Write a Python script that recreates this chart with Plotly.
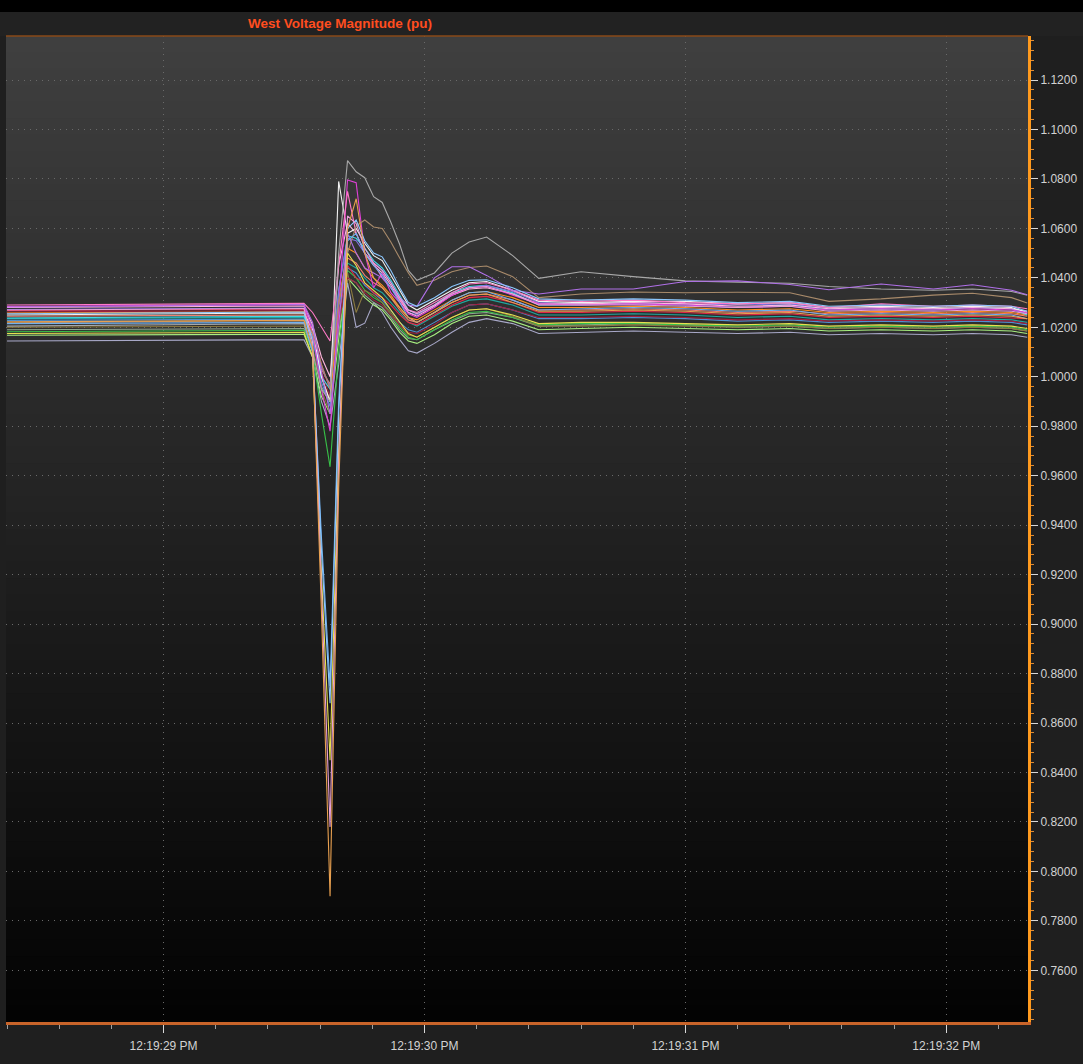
import pandas as pd
import plotly.graph_objects as go

# Sample times, seconds after 12:19:28
t_sec = [0.40, 0.80, 1.20, 1.538, 1.571, 1.605, 1.638, 1.671, 1.705, 1.738,
         1.771, 1.805, 1.838, 1.871, 1.905, 1.938, 1.971, 2.038, 2.105, 2.171,
         2.238, 2.338, 2.438, 2.60, 2.80, 3.00, 3.20, 3.40, 3.55, 3.75,
         3.95, 4.10, 4.25, 4.31]

# Per-bus voltage magnitude (pu)
v_gray = [1.0205, 1.0208, 1.0212, 1.0215,
          1.0100, 0.9950, 0.9900, 1.0500,
          1.0874, 1.0829, 1.0805, 1.0728, 1.0705, 1.0625, 1.0535,
          1.0430, 1.0390, 1.0420, 1.0500, 1.0545, 1.0565, 1.0490, 1.0398,
          1.0425, 1.0405, 1.0388, 1.0382, 1.0378, 1.0365, 1.0355, 1.0350, 1.0355, 1.0345, 1.0330]
v_tan = [1.0218, 1.0221, 1.0224, 1.0228,
         1.0180, 1.0050, 0.9950, 1.0300,
         1.0500, 1.0610, 1.0634, 1.0606, 1.0600, 1.0545, 1.0480,
         1.0420, 1.0370, 1.0390, 1.0425, 1.0442, 1.0448, 1.0405, 1.0320,
         1.0335, 1.0343, 1.0340, 1.0342, 1.0340, 1.0305, 1.0315, 1.0330, 1.0338, 1.0320, 1.0298]
v_purple = [1.0282, 1.0285, 1.0289, 1.0292,
            1.0220, 1.0020, 0.9850, 1.0200,
            1.0580, 1.0500, 1.0440, 1.0420, 1.0400, 1.0360, 1.0320,
            1.0290, 1.0285, 1.0400, 1.0445, 1.0445, 1.0410, 1.0350, 1.0335,
            1.0355, 1.0355, 1.0385, 1.0388, 1.0373, 1.0352, 1.0375, 1.0355, 1.0372, 1.0350, 1.0332]
v_pink = [1.0290, 1.0292, 1.0295, 1.0297,
          1.0260, 1.0200, 1.0145, 1.0450,
          1.0750, 1.0580, 1.0500, 1.0460, 1.0400, 1.0360, 1.0310,
          1.0270, 1.0260, 1.0300, 1.0340, 1.0375, 1.0380, 1.0350, 1.0310,
          1.0305, 1.0310, 1.0300, 1.0295, 1.0300, 1.0280, 1.0295, 1.0285, 1.0290, 1.0285, 1.0275]
v_magenta = [1.0284, 1.0287, 1.0289, 1.0292,
             1.0180, 0.9950, 0.9780, 1.0300,
             1.0796, 1.0785, 1.0500, 1.0360, 1.0420, 1.0340, 1.0300,
             1.0255, 1.0240, 1.0280, 1.0330, 1.0360, 1.0365, 1.0330, 1.0295,
             1.0290, 1.0295, 1.0290, 1.0280, 1.0285, 1.0270, 1.0275, 1.0270, 1.0275, 1.0270, 1.0260]
v_lightblue = [1.0255, 1.0257, 1.0260, 1.0262,
               1.0120, 0.9300, 0.8680, 0.9850,
               1.0600, 1.0634, 1.0550, 1.0500, 1.0485, 1.0430, 1.0360,
               1.0300, 1.0285, 1.0320, 1.0365, 1.0390, 1.0392, 1.0360, 1.0315,
               1.0310, 1.0315, 1.0310, 1.0300, 1.0305, 1.0285, 1.0290, 1.0285, 1.0290, 1.0285, 1.0265]
v_white = [1.0250, 1.0252, 1.0255, 1.0258,
           1.0190, 1.0000, 0.9900, 1.0790,
           1.0580, 1.0600, 1.0540, 1.0490, 1.0470, 1.0410, 1.0350,
           1.0290, 1.0270, 1.0310, 1.0350, 1.0380, 1.0385, 1.0350, 1.0305,
           1.0300, 1.0305, 1.0305, 1.0295, 1.0300, 1.0280, 1.0285, 1.0280, 1.0285, 1.0280, 1.0260]
v_cyan = [1.0238, 1.0240, 1.0243, 1.0245,
          1.0160, 1.0000, 0.9950, 1.0350,
          1.0570, 1.0560, 1.0520, 1.0470, 1.0440, 1.0390, 1.0330,
          1.0270, 1.0255, 1.0290, 1.0340, 1.0365, 1.0370, 1.0340, 1.0290,
          1.0290, 1.0295, 1.0290, 1.0280, 1.0290, 1.0270, 1.0275, 1.0270, 1.0280, 1.0275, 1.0250]
v_red = [1.0268, 1.0270, 1.0272, 1.0274,
         1.0200, 1.0050, 0.9950, 1.0250,
         1.0450, 1.0400, 1.0380, 1.0340, 1.0320, 1.0290, 1.0250,
         1.0220, 1.0210, 1.0250, 1.0290, 1.0320, 1.0325, 1.0300, 1.0260,
         1.0260, 1.0265, 1.0260, 1.0250, 1.0255, 1.0240, 1.0245, 1.0240, 1.0245, 1.0240, 1.0235]
v_orangetan = [1.0222, 1.0224, 1.0226, 1.0228,
               1.0120, 0.9050, 0.7900, 0.9550,
               1.0600, 1.0720, 1.0500, 1.0400, 1.0360, 1.0320, 1.0280,
               1.0240, 1.0220, 1.0260, 1.0300, 1.0330, 1.0335, 1.0300, 1.0265,
               1.0265, 1.0270, 1.0265, 1.0255, 1.0260, 1.0245, 1.0250, 1.0245, 1.0250, 1.0245, 1.0235]
v_yellow = [1.0175, 1.0177, 1.0179, 1.0180,
            1.0080, 0.9200, 0.8450, 0.9700,
            1.0500, 1.0450, 1.0380, 1.0350, 1.0320, 1.0270, 1.0220,
            1.0175, 1.0160, 1.0200, 1.0240, 1.0270, 1.0275, 1.0250, 1.0215,
            1.0220, 1.0220, 1.0215, 1.0210, 1.0215, 1.0205, 1.0210, 1.0205, 1.0210, 1.0205, 1.0195]
v_rose = [1.0270, 1.0272, 1.0274, 1.0276,
          1.0140, 0.9150, 0.8180, 0.9650,
          1.0650, 1.0620, 1.0520, 1.0460, 1.0430, 1.0380, 1.0320,
          1.0270, 1.0255, 1.0290, 1.0335, 1.0360, 1.0365, 1.0335, 1.0290,
          1.0290, 1.0290, 1.0285, 1.0280, 1.0285, 1.0265, 1.0270, 1.0265, 1.0270, 1.0265, 1.0255]
v_green = [1.0182, 1.0184, 1.0186, 1.0188,
           1.0100, 0.9850, 0.9636, 1.0100,
           1.0430, 1.0400, 1.0350, 1.0320, 1.0300, 1.0250, 1.0200,
           1.0160, 1.0150, 1.0190, 1.0230, 1.0260, 1.0265, 1.0240, 1.0210,
           1.0215, 1.0215, 1.0210, 1.0205, 1.0210, 1.0200, 1.0205, 1.0200, 1.0205, 1.0200, 1.0190]
v_teal = [1.0235, 1.0237, 1.0238, 1.0240,
          1.0150, 1.0000, 0.9900, 1.0280,
          1.0460, 1.0440, 1.0400, 1.0360, 1.0340, 1.0300, 1.0260,
          1.0220, 1.0205, 1.0245, 1.0285, 1.0310, 1.0315, 1.0290, 1.0250,
          1.0250, 1.0255, 1.0250, 1.0240, 1.0245, 1.0230, 1.0235, 1.0230, 1.0235, 1.0230, 1.0220]
v_olive = [1.0200, 1.0202, 1.0203, 1.0205,
           1.0120, 0.9950, 0.9850, 1.0200,
           1.0420, 1.0260, 1.0350, 1.0330, 1.0300, 1.0260, 1.0210,
           1.0170, 1.0160, 1.0200, 1.0240, 1.0270, 1.0275, 1.0245, 1.0205,
           1.0205, 1.0210, 1.0205, 1.0200, 1.0205, 1.0195, 1.0200, 1.0195, 1.0200, 1.0195, 1.0185]
v_lavender = [1.0145, 1.0147, 1.0148, 1.0150,
              1.0080, 0.9900, 0.9800, 1.0050,
              1.0380, 1.0200, 1.0217, 1.0300, 1.0260, 1.0200, 1.0150,
              1.0105, 1.0096, 1.0135, 1.0180, 1.0220, 1.0235, 1.0215, 1.0175,
              1.0180, 1.0185, 1.0180, 1.0175, 1.0180, 1.0170, 1.0175, 1.0170, 1.0175, 1.0170, 1.0160]
v_skyblue = [1.0215, 1.0217, 1.0218, 1.0220,
             1.0100, 0.9350, 0.8750, 0.9900,
             1.0550, 1.0580, 1.0500, 1.0450, 1.0410, 1.0360, 1.0300,
             1.0240, 1.0220, 1.0260, 1.0310, 1.0340, 1.0345, 1.0310, 1.0270,
             1.0275, 1.0280, 1.0275, 1.0265, 1.0270, 1.0250, 1.0255, 1.0250, 1.0255, 1.0250, 1.0235]
v_darkred = [1.0262, 1.0264, 1.0266, 1.0268,
             1.0180, 1.0020, 0.9920, 1.0220,
             1.0400, 1.0380, 1.0340, 1.0310, 1.0290, 1.0250, 1.0210,
             1.0180, 1.0175, 1.0210, 1.0260, 1.0290, 1.0295, 1.0270, 1.0240,
             1.0240, 1.0245, 1.0240, 1.0230, 1.0235, 1.0225, 1.0230, 1.0225, 1.0230, 1.0225, 1.0215]
v_lightgreen = [1.0168, 1.0169, 1.0171, 1.0172,
                1.0080, 0.9920, 0.9850, 1.0150,
                1.0400, 1.0360, 1.0320, 1.0290, 1.0270, 1.0230, 1.0180,
                1.0145, 1.0135, 1.0170, 1.0215, 1.0245, 1.0250, 1.0225, 1.0190,
                1.0195, 1.0200, 1.0195, 1.0190, 1.0195, 1.0185, 1.0190, 1.0185, 1.0190, 1.0185, 1.0175]
v_salmon = [1.0245, 1.0247, 1.0248, 1.0250,
            1.0170, 1.0030, 0.9970, 1.0300,
            1.0480, 1.0460, 1.0410, 1.0380, 1.0360, 1.0320, 1.0270,
            1.0230, 1.0220, 1.0260, 1.0300, 1.0330, 1.0335, 1.0310, 1.0270,
            1.0270, 1.0275, 1.0270, 1.0260, 1.0265, 1.0255, 1.0260, 1.0255, 1.0260, 1.0255, 1.0245]
v_violet = [1.0272, 1.0274, 1.0276, 1.0278,
            1.0200, 1.0040, 0.9960, 1.0350,
            1.0560, 1.0550, 1.0500, 1.0460, 1.0430, 1.0380, 1.0320,
            1.0260, 1.0250, 1.0290, 1.0330, 1.0360, 1.0370, 1.0345, 1.0300,
            1.0295, 1.0300, 1.0295, 1.0290, 1.0295, 1.0275, 1.0280, 1.0275, 1.0280, 1.0275, 1.0255]
v_sage = [1.0190, 1.0192, 1.0193, 1.0195,
          1.0110, 0.9960, 0.9900, 1.0180,
          1.0400, 1.0380, 1.0330, 1.0300, 1.0280, 1.0240, 1.0190,
          1.0155, 1.0150, 1.0190, 1.0225, 1.0255, 1.0260, 1.0240, 1.0205,
          1.0210, 1.0215, 1.0210, 1.0200, 1.0205, 1.0195, 1.0200, 1.0195, 1.0200, 1.0195, 1.0185]
v_lightpink = [1.0280, 1.0282, 1.0284, 1.0286,
               1.0210, 1.0080, 1.0000, 1.0450,
               1.0620, 1.0580, 1.0500, 1.0450, 1.0420, 1.0370, 1.0310,
               1.0260, 1.0245, 1.0285, 1.0330, 1.0355, 1.0360, 1.0335, 1.0295,
               1.0295, 1.0300, 1.0295, 1.0285, 1.0290, 1.0275, 1.0280, 1.0275, 1.0280, 1.0275, 1.0265]
v_orange = [1.0258, 1.0260, 1.0261, 1.0263,
            1.0180, 1.0000, 0.9900, 1.0300,
            1.0520, 1.0500, 1.0440, 1.0400, 1.0370, 1.0330, 1.0280,
            1.0240, 1.0230, 1.0270, 1.0310, 1.0340, 1.0345, 1.0320, 1.0280,
            1.0280, 1.0285, 1.0280, 1.0270, 1.0275, 1.0260, 1.0265, 1.0260, 1.0265, 1.0260, 1.0250]
v_steel = [1.0228, 1.0230, 1.0231, 1.0233,
           1.0150, 0.9980, 0.9880, 1.0250,
           1.0440, 1.0420, 1.0370, 1.0340, 1.0310, 1.0270, 1.0220,
           1.0190, 1.0180, 1.0220, 1.0260, 1.0290, 1.0295, 1.0270, 1.0235,
           1.0235, 1.0240, 1.0235, 1.0225, 1.0230, 1.0220, 1.0225, 1.0220, 1.0225, 1.0220, 1.0210]

# Y tick positions (pu)
y_ticks = [0.76, 0.78, 0.80, 0.82, 0.84, 0.86, 0.88, 0.90, 0.92, 0.94,
           0.96, 0.98, 1.00, 1.02, 1.04, 1.06, 1.08, 1.10, 1.12]
tick_label_fmt = "%I:%M:%S %p"
title_text = "West Voltage Magnitude (pu)"

series = [
    (v_lavender, "#a8a8c8"), (v_sage, "#90a890"), (v_lightgreen, "#a8f080"),
    (v_green, "#38c048"), (v_olive, "#8a7a40"), (v_steel, "#5090d0"),
    (v_teal, "#20a8a0"), (v_darkred, "#a02040"), (v_salmon, "#f08070"),
    (v_red, "#e02848"), (v_orange, "#ff9020"), (v_cyan, "#40d8e8"),
    (v_violet, "#8070e0"), (v_lightpink, "#ffb8e0"), (v_white, "#f2f2f2"),
    (v_magenta, "#e040d8"), (v_pink, "#ff7ac8"), (v_tan, "#a88a6a"),
    (v_gray, "#a8a8a8"), (v_purple, "#b070e8"), (v_skyblue, "#70b0f0"),
    (v_yellow, "#e8e050"), (v_lightblue, "#8cc8ff"), (v_rose, "#e8a0d8"),
    (v_orangetan, "#e8a050"),
]
for vals, _ in series:
    if len(vals) != len(t_sec):
        raise ValueError("series length mismatch")

base = pd.Timestamp("2024-05-01 12:19:28")
times = base + pd.to_timedelta(t_sec, unit="s")

fig = go.Figure()
for vals, col in series:
    fig.add_trace(go.Scatter(x=times, y=vals, mode="lines",
                             line=dict(color=col, width=1.1),
                             hoverinfo="skip", showlegend=False))

# plot-area vertical gradient (grey at top fading to black)
shapes = []
n_bands = 60
top_level, bottom_level = 64, 2
for i in range(n_bands):
    f = (i + 0.5) / n_bands
    g = int(round(bottom_level + (top_level - bottom_level) * f))
    shapes.append(dict(type="rect", xref="paper", yref="paper", layer="below",
                       x0=0, x1=1, y0=i / n_bands, y1=(i + 1) / n_bands + 0.001,
                       fillcolor=f"rgb({g},{g},{g})", line=dict(width=0)))
# header strip and black top band
shapes.append(dict(type="rect", xref="paper", yref="paper", layer="below",
                   x0=-0.01, x1=1.06, y0=1.0, y1=1.0244,
                   fillcolor="#222222", line=dict(width=0)))
shapes.append(dict(type="rect", xref="paper", yref="paper", layer="below",
                   x0=-0.01, x1=1.06, y0=1.0244, y1=1.05,
                   fillcolor="#000000", line=dict(width=0)))
# thin border under the header
shapes.append(dict(type="line", xref="paper", yref="paper", layer="above",
                   x0=0, x1=1, y0=1, y1=1, line=dict(color="#8a4a18", width=1.5)))

axis_font = dict(family="Liberation Sans, Arial, sans-serif", size=12, color="#d2d2d2")
grid_style = dict(showgrid=True, gridcolor="#6a6a6a", griddash="1px,5px", gridwidth=1)

fig.update_layout(
    width=1083, height=1064,
    margin=dict(l=6, r=52, t=36, b=42),
    paper_bgcolor="#1f1f1f",
    plot_bgcolor="rgba(0,0,0,0)",
    shapes=shapes,
    showlegend=False,
    xaxis=dict(
        type="date",
        range=[base + pd.Timedelta(seconds=0.396), base + pd.Timedelta(seconds=4.313)],
        tickformat=tick_label_fmt,
        tick0=base + pd.Timedelta(seconds=1), dtick=1000,
        zeroline=False,
        showline=True, linecolor="#c8642a", linewidth=3,
        ticks="outside", ticklen=8, tickcolor="#d8d8d8", tickwidth=1,
        ticklabelstandoff=3,
        minor=dict(dtick=200, ticks="outside", ticklen=4, tickcolor="#a0a0a0",
                   showgrid=False),
        tickfont=axis_font,
        fixedrange=True,
        **grid_style,
    ),
    yaxis=dict(
        side="right",
        range=[0.7391, 1.1378],
        tickmode="array", tickvals=y_ticks, tickformat=".4f",
        zeroline=False,
        showline=True, linecolor="#ff9a1e", linewidth=3,
        ticks="outside", ticklen=7, tickcolor="#d8d8d8", tickwidth=1,
        minor=dict(tick0=0.76, dtick=0.004, ticks="outside", ticklen=3,
                   tickcolor="#e08a30", showgrid=False),
        tickfont=axis_font,
        fixedrange=True,
        **grid_style,
    ),
    annotations=[dict(
        text="<b>" + title_text + "</b>", xref="paper", yref="paper",
        x=0.3268, y=1.0123, xanchor="center", yanchor="middle", showarrow=False,
        font=dict(family="Liberation Sans, Arial, sans-serif", size=13.5, color="#ff4d1f"),
    )],
)

fig.write_html("out.html")
